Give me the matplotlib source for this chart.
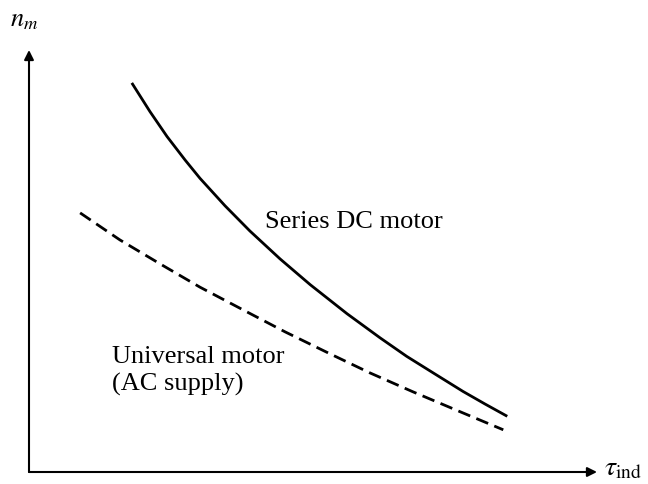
import matplotlib.pyplot as plt

# torque (x) vs speed (y), arbitrary units 0..10 on both axes
series_torque = [1.81, 2.13, 2.43, 2.75, 3.01, 3.45, 3.89, 4.42, 4.95, 5.60,
                 6.18, 6.65, 7.15, 7.64, 8.03, 8.42]
series_speed = [9.22, 8.54, 7.95, 7.39, 6.96, 6.31, 5.71, 5.05, 4.44, 3.75,
                3.18, 2.74, 2.32, 1.91, 1.61, 1.32]

universal_torque = [0.90, 1.60, 2.31, 3.01, 3.80, 4.51, 5.30, 6.00, 6.76, 7.64, 8.35]
universal_speed = [6.14, 5.50, 4.93, 4.38, 3.82, 3.32, 2.80, 2.35, 1.90, 1.40, 1.00]

plt.rcParams['font.family'] = ['Liberation Serif', 'DejaVu Serif']
plt.rcParams['mathtext.fontset'] = 'stix'

fig = plt.figure(figsize=(6.48, 4.84), dpi=100)
ax = fig.add_axes([29 / 648, 12 / 484, 568 / 648, 422 / 484])
ax.set_xlim(0, 10)
ax.set_ylim(0, 10)
ax.axis('off')

# axes with arrow heads
arrow = dict(arrowstyle='-|>', color='black', lw=1.5, mutation_scale=14,
             shrinkA=0, shrinkB=0)
ax.annotate('', xy=(10, 0), xytext=(0, 0), arrowprops=arrow, annotation_clip=False)
ax.annotate('', xy=(0, 10), xytext=(0, 0), arrowprops=arrow, annotation_clip=False)

ax.plot(series_torque, series_speed, color='black', lw=2.0,
        solid_capstyle='butt', clip_on=False)
ax.plot(universal_torque, universal_speed, color='black', lw=2.0,
        linestyle=(0, (4.6, 2.4)), clip_on=False)

ax.text(4.15, 5.78, 'Series DC motor', fontsize=19, va='baseline', ha='left')
ax.text(1.46, 2.58, 'Universal motor', fontsize=19, va='baseline', ha='left')
ax.text(1.46, 1.94, '(AC supply)', fontsize=19, va='baseline', ha='left')

ax.text(-0.33, 10.55, r'$n_m$', fontsize=19, va='baseline', ha='left', clip_on=False)
ax.text(10.13, -0.07, r'$\tau_{\rm ind}$', fontsize=20, va='baseline', ha='left',
        clip_on=False)

fig.savefig('out.png', dpi=100)
